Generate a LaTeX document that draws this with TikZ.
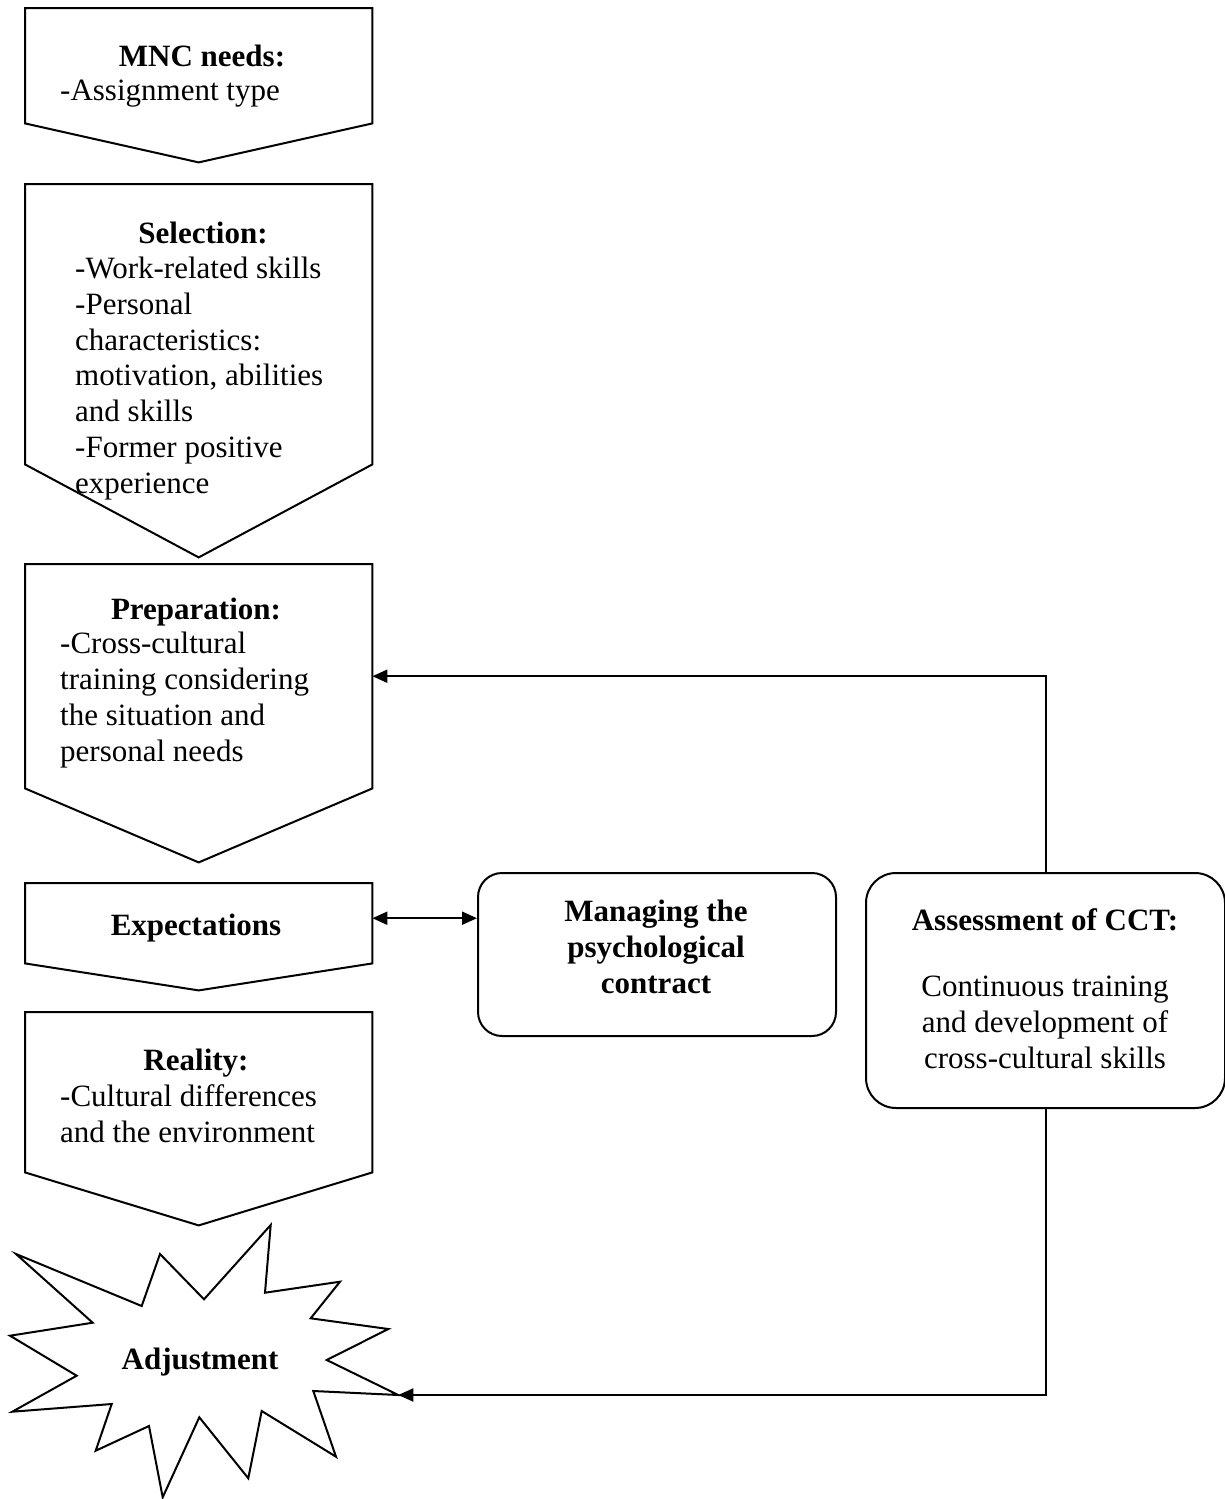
\documentclass[tikz,border=0pt]{standalone}
\usepackage{fontspec}
\setmainfont{Liberation Serif}
\usetikzlibrary{arrows.meta}

% downward pentagon: name, left x, top y, side bottom y, tip y
\newcommand{\downbox}[5]{%
  \node[frame, minimum width=347pt, minimum height={#4-#3}] (#1) at (#2,#3) {};
  \draw[outline] (#1.north west) -- (#1.north east) -- (#1.south east)
    -- ([yshift={-(#5-#4)}]#1.south) -- (#1.south west) -- cycle;
}

\begin{document}
\begin{tikzpicture}[x=1pt,y=-1pt,
  outline/.style={draw=black, line width=2pt, line join=miter},
  frame/.style={draw=none, inner sep=0pt, anchor=north west},
  body/.style={font=\fontsize{31}{35.7}\selectfont, inner sep=0pt, align=left, anchor=base west},
  head/.style={font=\fontsize{31}{35.7}\selectfont\bfseries, inner sep=0pt, anchor=base},
  roundbox/.style={draw=black, line width=2pt, inner sep=0pt, anchor=north west},
  link/.style={line width=2pt, -{Triangle[length=15pt,width=13pt]}},
  duallink/.style={line width=2pt, {Triangle[length=15pt,width=13pt]}-{Triangle[length=15pt,width=13pt]}},
]
\useasboundingbox (0,0) rectangle (1225,1499);

% left column of stages
\downbox{needs}{25}{8}{123}{162}
\downbox{select}{25}{184}{464}{557}
\downbox{prep}{25}{564}{788}{862}
\downbox{expect}{25}{883}{963}{990}
\downbox{real}{25}{1012}{1172}{1225}

% multi-line texts are placed by the baseline of their last line
\node[head] (needsH) at (202,66) {MNC needs:};
\node[body] (needsB) at (60,100) {-Assignment type};

\node[head] (selH) at (203,243) {Selection:};
\node[body] (selB) at (75,493) {-Work-related skills\\-Personal\\characteristics:\\motivation, abilities\\and skills\\-Former positive\\experience};

\node[head] (prepH) at (196,619) {Preparation:};
\node[body] (prepB) at (60,761) {-Cross-cultural\\training considering\\the situation and\\personal needs};

\node[head] (expH) at (196,935) {Expectations};

\node[head] (realH) at (196,1070) {Reality:};
\node[body] (realB) at (60,1142) {-Cultural differences\\and the environment};

% adjustment burst
\draw[outline] (16,1254) -- (141.7,1306) -- (160,1254) -- (204,1299.3)
  -- (270.7,1225) -- (265,1292.7) -- (340,1281.7) -- (310.7,1318.3)
  -- (388.3,1329) -- (326.7,1360) -- (398.3,1395) coordinate (adjtip)
  -- (313.3,1391) -- (336,1456.7) -- (261.7,1411) -- (248.3,1478.3)
  -- (199.3,1417.3) -- (162.7,1497.3) -- (149,1426) -- (95.7,1450.7)
  -- (111.7,1404) -- (12.3,1411.7) -- (76.7,1375.7) -- (10,1335.7)
  -- (92.7,1322.7) -- cycle;
\node[head] (adjT) at (200,1369) {Adjustment};

% right-hand boxes
\node[roundbox, rounded corners=24pt, minimum width=358pt, minimum height=163pt] (manage) at (477,872) {};
\node[head, align=center] (manageT) at (656,993) {Managing the\\psychological\\contract};

\node[roundbox, rounded corners=30pt, minimum width=359pt, minimum height=235pt] (assess) at (865,872) {};
\node[head] (assessH) at (1045,930) {Assessment of CCT:};
\node[body, align=center, anchor=base] (assessB) at (1045,1068) {Continuous training\\and development of\\cross-cultural skills};

% connectors
\coordinate (ea) at ([yshift=5pt]expect.east);
\draw[duallink] (ea) -- (ea -| manage.west);
\draw[link] (assess.north) |- (prep.east);
\draw[link] (assess.south) |- (adjtip);
\end{tikzpicture}
\end{document}
